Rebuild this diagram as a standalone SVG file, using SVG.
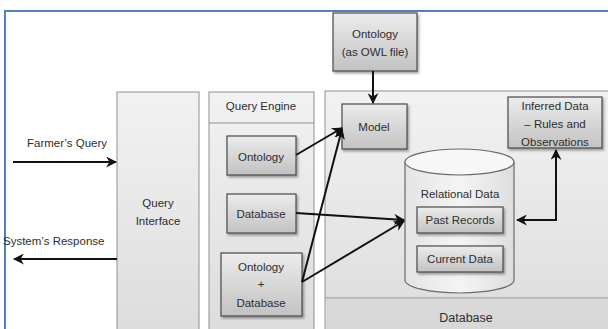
<svg xmlns="http://www.w3.org/2000/svg" width="608" height="329" viewBox="0 0 608 329">
  <style>
    text { font-family: "Liberation Sans", Arial, sans-serif; font-size: 11.5px; fill: #2e2e2e; text-anchor: middle; }
    .col { fill: url(#colGrad); stroke: #8f8f8f; stroke-width: 1; }
    .box { fill: url(#boxGrad); stroke: #4a4a4a; stroke-width: 1.2; filter: url(#shadow); }
    .edge { stroke: #111; stroke-width: 2; fill: none; }
    .lbl { text-anchor: start; }
  </style>
  <defs>
    <linearGradient id="colGrad" x1="0" y1="0" x2="0" y2="1">
      <stop offset="0" stop-color="#f2f2f2"/>
      <stop offset="1" stop-color="#dcdcdc"/>
    </linearGradient>
    <linearGradient id="boxGrad" x1="0" y1="0" x2="0" y2="1">
      <stop offset="0" stop-color="#ececec"/>
      <stop offset="1" stop-color="#c2c2c2"/>
    </linearGradient>
    <linearGradient id="cylGrad" x1="0" y1="0" x2="1" y2="0">
      <stop offset="0" stop-color="#e4e4e4"/>
      <stop offset="0.5" stop-color="#f4f4f4"/>
      <stop offset="1" stop-color="#dedede"/>
    </linearGradient>
    <filter id="shadow" x="-20%" y="-20%" width="150%" height="150%">
      <feDropShadow dx="1.5" dy="2" stdDeviation="1" flood-color="#000" flood-opacity="0.35"/>
    </filter>
    <marker id="arrow" viewBox="0 0 10 10" refX="9" refY="5" markerWidth="5.5" markerHeight="5.5" orient="auto-start-reverse" markerUnits="strokeWidth">
      <path d="M0,0 L10,5 L0,10 L3,5 z" fill="#111"/>
    </marker>
  </defs>

  <rect x="0" y="0" width="608" height="329" fill="#ffffff"/>
  <!-- outer frame -->
  <rect x="5" y="11" width="610" height="330" fill="none" stroke="#4f81bd" stroke-width="2"/>

  <!-- Query Interface column -->
  <g id="query-interface">
    <rect class="col" x="117" y="92" width="82" height="245"/>
    <text x="158" y="207">Query</text>
    <text x="158" y="225">Interface</text>
  </g>

  <!-- Query Engine column -->
  <g id="query-engine">
    <rect class="col" x="209" y="92" width="105" height="245"/>
    <line x1="209" y1="123" x2="314" y2="123" stroke="#8f8f8f" stroke-width="1"/>
    <text x="261" y="110">Query Engine</text>
  </g>

  <!-- Database container -->
  <g id="database">
    <rect class="col" x="325" y="91" width="290" height="246"/>
    <line x1="325" y1="298" x2="608" y2="298" stroke="#8f8f8f" stroke-width="1"/>
    <rect x="325.5" y="298.5" width="290" height="40" fill="#d6d6d6" opacity="0.6"/>
    <text x="466" y="322" style="font-size:12.5px">Database</text>
  </g>

  <g id="ontology-owl">
    <rect class="box" x="333" y="13" width="84" height="58"/>
    <text x="375" y="38">Ontology</text>
    <text x="375" y="56">(as OWL file)</text>
  </g>

  <g id="model">
    <rect class="box" x="342" y="104" width="65" height="45"/>
    <text x="374" y="131">Model</text>
  </g>

  <g id="inferred-data">
    <rect class="box" x="508" y="97" width="94" height="51"/>
    <text x="555" y="110">Inferred Data</text>
    <text x="555" y="128">– Rules and</text>
    <text x="555" y="146">Observations</text>
  </g>

  <g id="qe-ontology">
    <rect class="box" x="227" y="136" width="69" height="39"/>
    <text x="261" y="161">Ontology</text>
  </g>

  <g id="qe-database">
    <rect class="box" x="227" y="194" width="69" height="39"/>
    <text x="261" y="218">Database</text>
  </g>

  <g id="qe-ontology-database">
    <rect class="box" x="221" y="253" width="81" height="63"/>
    <text x="261" y="271">Ontology</text>
    <text x="261" y="288">+</text>
    <text x="261" y="307">Database</text>
  </g>

  <g id="relational-data">
    <path d="M405,162 L405,280 A54.5,13 0 0 0 514,280 L514,162" fill="url(#cylGrad)" stroke="#6a6a6a" stroke-width="1.2"/>
    <ellipse cx="459.5" cy="162" rx="54.5" ry="13" fill="#f7f7f7" stroke="#6a6a6a" stroke-width="1.2"/>
    <text x="460" y="198">Relational Data</text>
    <g id="past-records">
      <rect class="box" x="417" y="207" width="86" height="26"/>
      <text x="460" y="224">Past Records</text>
    </g>
    <g id="current-data">
      <rect class="box" x="417" y="246" width="86" height="26"/>
      <text x="460" y="263">Current Data</text>
    </g>
  </g>

  <!-- connectors -->
  <g id="connectors">
    <line class="edge" x1="13" y1="162" x2="116" y2="162" marker-end="url(#arrow)"/>
    <line class="edge" x1="117" y1="259" x2="14" y2="259" marker-end="url(#arrow)"/>
    <line class="edge" x1="373" y1="71" x2="373" y2="103" marker-end="url(#arrow)"/>
    <line class="edge" x1="296" y1="155" x2="342" y2="128" marker-end="url(#arrow)"/>
    <line class="edge" x1="302" y1="282" x2="342" y2="129" marker-end="url(#arrow)"/>
    <line class="edge" x1="296" y1="213" x2="404" y2="220" marker-end="url(#arrow)"/>
    <line class="edge" x1="302" y1="282" x2="404" y2="221" marker-end="url(#arrow)"/>
    <polyline class="edge" points="517,220 556,220 556,150" marker-start="url(#arrow)" marker-end="url(#arrow)"/>
  </g>

  <!-- side labels -->
  <text class="lbl" x="27" y="147">Farmer’s Query</text>
  <text class="lbl" x="3" y="245">System’s Response</text>
</svg>
